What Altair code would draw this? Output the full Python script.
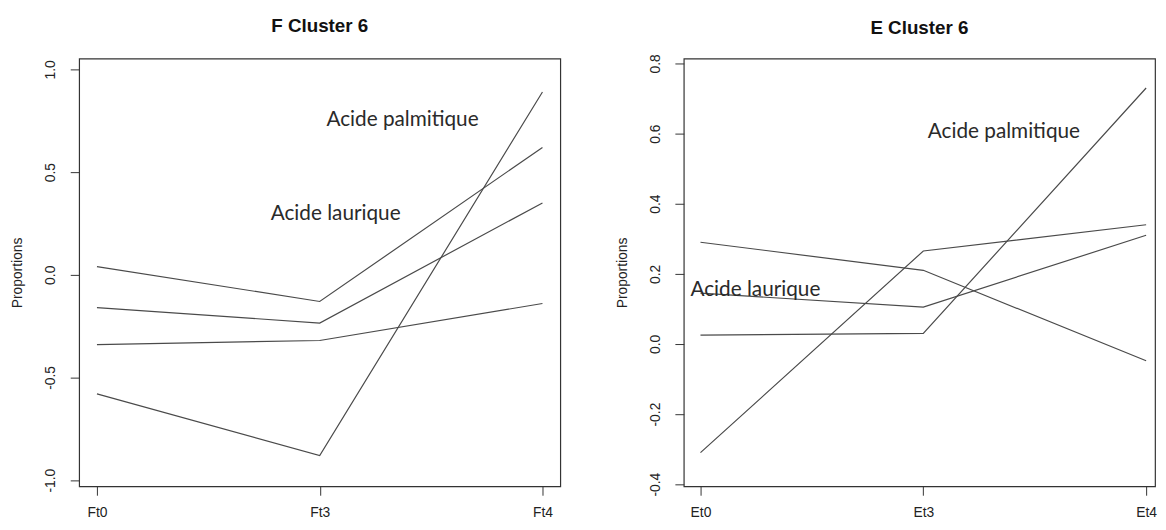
import altair as alt
import pandas as pd

# ---- data ----
f_times = ["Ft0", "Ft3", "Ft4"]
e_times = ["Et0", "Et3", "Et4"]

f_line1 = [0.04, -0.13, 0.62]
f_line2 = [-0.16, -0.235, 0.35]
f_line3 = [-0.34, -0.32, -0.14]
f_line4 = [-0.58, -0.88, 0.89]

e_line1 = [0.29, 0.21, -0.048]
e_line2 = [0.145, 0.105, 0.31]
e_line3 = [0.025, 0.03, 0.73]
e_line4 = [-0.31, 0.265, 0.34]

f_ticks = [-1.0, -0.5, 0.0, 0.5, 1.0]
e_ticks = [-0.4, -0.2, 0.0, 0.2, 0.4, 0.6, 0.8]

f_note_text = ["Acide palmitique", "Acide laurique"]
f_note_x = [1.03, 0.78]
f_note_y = [0.753, 0.295]

e_note_text = ["Acide palmitique", "Acide laurique"]
e_note_x = [1.02, -0.045]
e_note_y = [0.605, 0.155]


def long_df(lines):
    rows = []
    for k, vals in enumerate(lines):
        for i, v in enumerate(vals):
            rows.append({"series": f"s{k}", "idx": i, "value": v})
    return pd.DataFrame(rows)


FONT = "Liberation Sans"
LINE_COLOR = "#4a4a4a"


def label_expr(names):
    arr = "[" + ",".join(f"'{n}'" for n in names) + "]"
    return f"{arr}[datum.value]"


def panel(title, names, lines, ticks, ydomain, xdomain, width, notes, title_dy):
    df = long_df(lines)
    x = alt.X(
        "idx:Q",
        scale=alt.Scale(domain=xdomain, nice=False, zero=False),
        axis=alt.Axis(
            values=[0, 1, 2],
            labelExpr=label_expr(names),
            title=None,
            grid=False,
            domain=False,
            tickSize=9,
            tickColor="#333",
            labelPadding=11,
            labelFont=FONT,
            labelFontSize=14,
            labelColor="#222",
        ),
    )
    y = alt.Y(
        "value:Q",
        scale=alt.Scale(domain=ydomain, nice=False, zero=False),
        axis=alt.Axis(
            values=ticks,
            labelExpr="datum.value < 0 ? '-' + format(-datum.value, '.1f') : format(datum.value, '.1f')",
            title="Proportions",
            titleFont=FONT,
            titleFontSize=14,
            titleFontWeight="normal",
            titleColor="#222",
            titlePadding=19,
            grid=False,
            domain=False,
            tickSize=9,
            tickColor="#333",
            labelAngle=-90,
            labelAlign="center",
            labelBaseline="bottom",
            labelPadding=13,
            labelFont=FONT,
            labelFontSize=14,
            labelColor="#222",
        ),
    )
    lines_layer = alt.Chart(df).mark_line(color=LINE_COLOR, strokeWidth=1.2).encode(
        x=x, y=y, detail="series:N"
    )
    ndf = pd.DataFrame({"text": notes[0], "idx": notes[1], "value": notes[2]})
    text_layer = alt.Chart(ndf).mark_text(
        align="left", baseline="middle", font="Lato", fontSize=21, color="#2a2a2a"
    ).encode(x=alt.X("idx:Q"), y=alt.Y("value:Q"), text="text:N")
    return alt.layer(lines_layer, text_layer).properties(
        width=width,
        height=433,
        title=alt.TitleParams(
            title, font=FONT, fontSize=19, fontWeight="bold", color="#111",
            anchor="middle", baseline="alphabetic", offset=11, dy=title_dy,
        ),
    )


left = panel("F Cluster 6", f_times, [f_line1, f_line2, f_line3, f_line4],
             f_ticks, [-1.03, 1.053], [-0.08, 2.08], 487,
             (f_note_text, f_note_x, f_note_y), 3)
right = panel("E Cluster 6", e_times, [e_line1, e_line2, e_line3, e_line4],
              e_ticks, [-0.406, 0.814], [-0.075, 2.04], 477,
              (e_note_text, e_note_x, e_note_y), 9.5)

chart = alt.hconcat(left, right, spacing=54).properties(
    padding={"left": 2, "top": 5, "right": 0, "bottom": 0}
).configure_view(stroke="#333", strokeWidth=1.2)

chart.save("out.html", embed_options={"renderer": "svg", "actions": False})
